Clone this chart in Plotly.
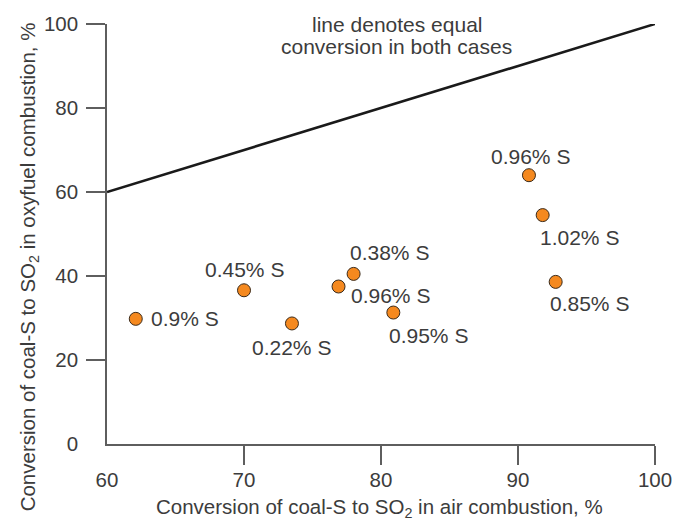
import plotly.graph_objects as go

# ---- data ----
air_conv = [62.1, 70.0, 73.5, 76.9, 78.0, 80.9, 90.8, 91.8, 92.75]
oxy_conv = [29.8, 36.6, 28.7, 37.5, 40.5, 31.3, 64.0, 54.5, 38.6]
sulfur_labels = ["0.9% S", "0.45% S", "0.22% S", "0.96% S", "0.38% S",
                 "0.95% S", "0.96% S", "1.02% S", "0.85% S"]
equal_x = [60, 100]
equal_y = [60, 100]
x_ticks = [60, 70, 80, 90, 100]
y_ticks = [0, 20, 40, 60, 80, 100]
note_lines = ["line denotes equal", "conversion in both cases"]
x_title = "Conversion of coal-S to SO<sub>2</sub> in air combustion, %"
y_title = "Conversion of coal-S to SO<sub>2</sub> in oxyfuel combustion, %"

# ---- style ----
FONT = "Liberation Sans"
TXT = "#3c3c3c"
AX = "#5e5e5e"
FS = 20.5
# label placement: (xanchor, xshift, yshift)
label_place = [
    ("left", 13, 0),
    ("center", 0, 21),
    ("center", 0, -24),
    ("left", 10, -9),
    ("left", -6, 21),
    ("left", -6, -23),
    ("center", 2, 19),
    ("left", -5, -22),
    ("left", -8, -22),
]

fig = go.Figure()
fig.add_trace(go.Scatter(x=equal_x, y=equal_y, mode="lines",
                         line=dict(color="#1a1a1a", width=2.6),
                         hoverinfo="skip", showlegend=False))
fig.add_trace(go.Scatter(x=air_conv, y=oxy_conv, mode="markers",
                         marker=dict(size=13, color="#F5891F",
                                     line=dict(color="#3a2a1a", width=1)),
                         showlegend=False, cliponaxis=False))

for xv, yv, t, (xa, dx, dy) in zip(air_conv, oxy_conv, sulfur_labels, label_place):
    fig.add_annotation(x=xv, y=yv, text=t, showarrow=False, xanchor=xa,
                       yanchor="middle", xshift=dx, yshift=dy,
                       font=dict(family=FONT, size=21, color=TXT))

note_y = [99.8, 94.7]
for t, yv in zip(note_lines, note_y):
    fig.add_annotation(x=81.15, y=yv, text=t, showarrow=False,
                       xanchor="center", yanchor="middle",
                       font=dict(family=FONT, size=21, color=TXT))

# axis titles as annotations (placed like the reference)
fig.add_annotation(xref="paper", yref="paper", x=0.498, y=-0.152,
                   text=x_title, showarrow=False, xanchor="center",
                   yanchor="middle", font=dict(family=FONT, size=FS, color=TXT))
fig.add_annotation(xref="paper", yref="paper", x=-0.142, y=0.421,
                   text=y_title, showarrow=False, textangle=-90,
                   xanchor="center", yanchor="middle",
                   font=dict(family=FONT, size=FS, color=TXT))

common = dict(showline=True, linecolor=AX, linewidth=1.6, showgrid=False,
              zeroline=False, ticks="", automargin=False,
              tickfont=dict(size=FS, color=TXT))
fig.update_layout(
    width=673, height=523,
    margin=dict(l=107, r=18, t=24, b=79),
    paper_bgcolor="white", plot_bgcolor="white",
    font=dict(family=FONT, color=TXT, size=FS),
    xaxis=dict(range=[60, 100], tickvals=x_ticks, ticklabelstandoff=17,
               minor=dict(tickvals=x_ticks[1:], ticks="outside", ticklen=19,
                          tickwidth=1.6, tickcolor=AX, showgrid=False),
               **common),
    yaxis=dict(range=[0, 100], tickvals=y_ticks, ticklabelstandoff=23,
               minor=dict(tickvals=y_ticks[1:], ticks="outside", ticklen=19,
                          tickwidth=1.6, tickcolor=AX, showgrid=False),
               **common),
)

fig.write_html(
    "out.html",
    config={"displayModeBar": False},
    post_script="document.body.style.margin='0px';document.body.style.overflow='hidden';",
)
